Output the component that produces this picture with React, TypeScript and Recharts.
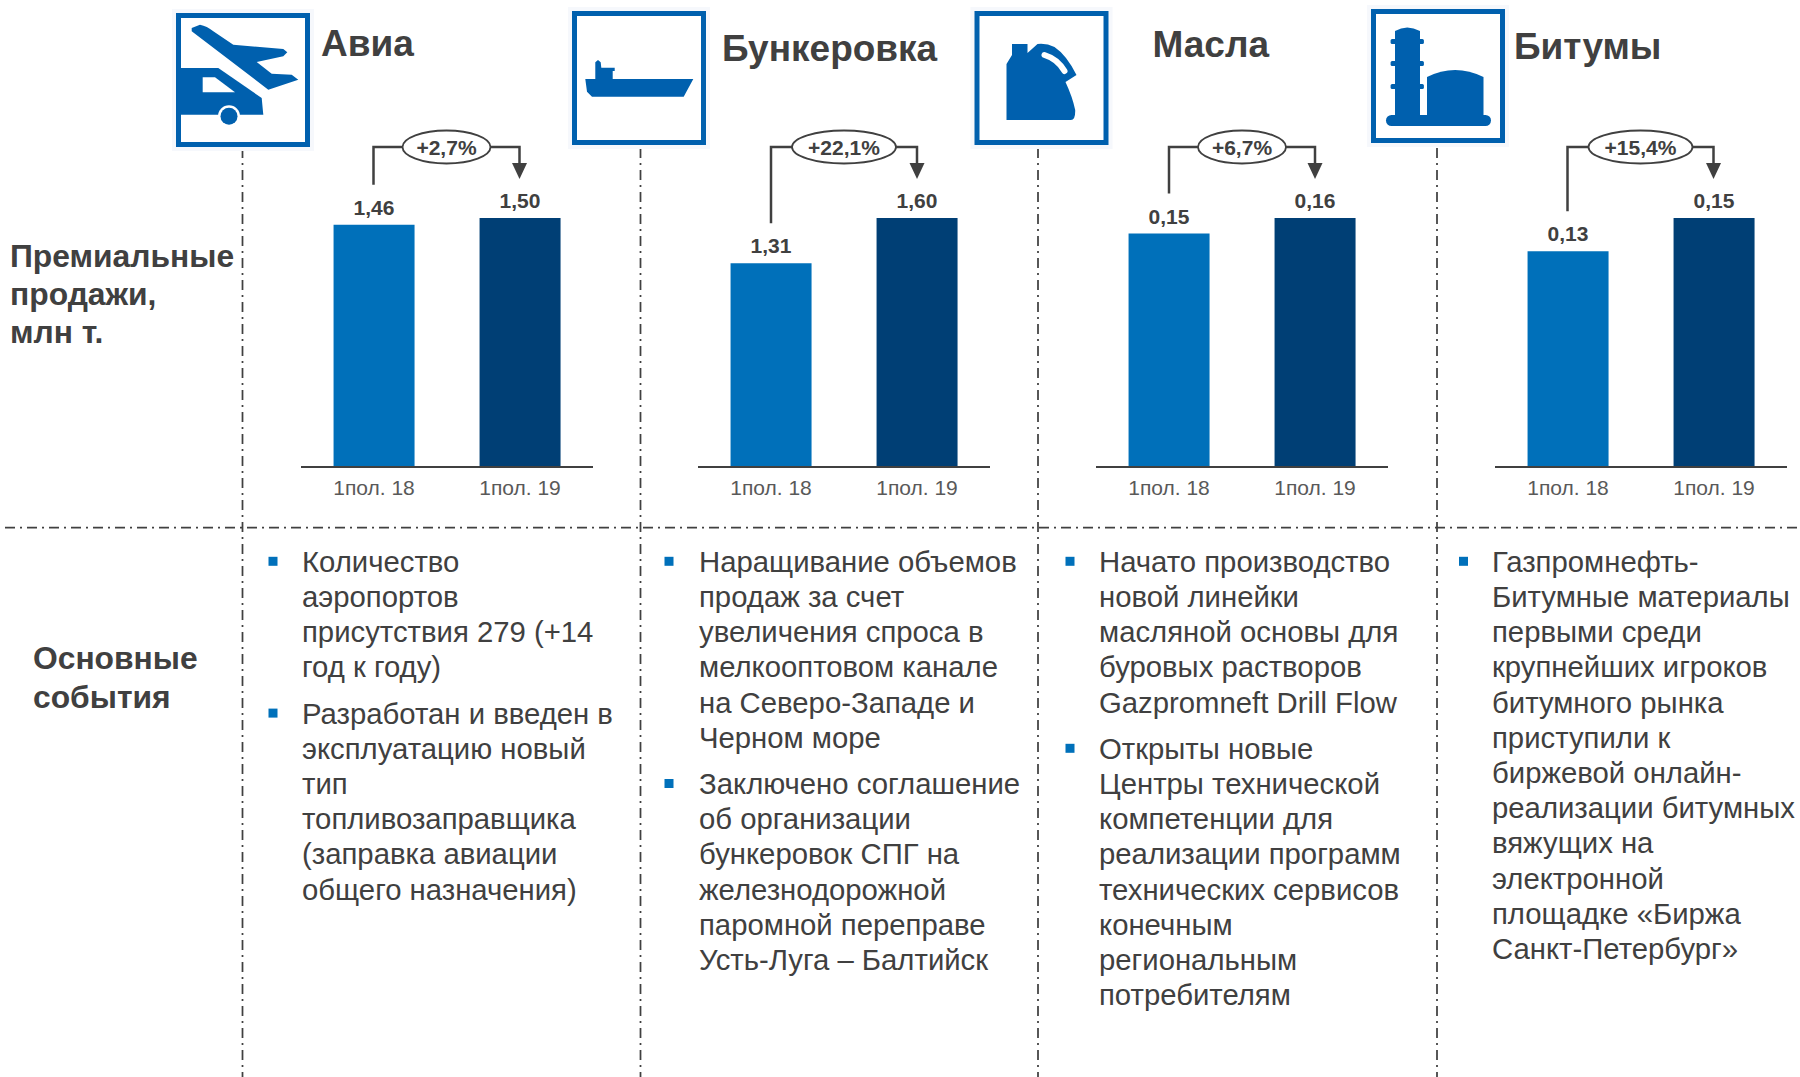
import { BarChart, Bar, XAxis, YAxis, Cell, LabelList } from "recharts";

const categories = ["1пол. 18", "1пол. 19"];
const aviaValues = [1.46, 1.5];
const bunkerValues = [1.31, 1.6];
const oilValues = [0.15, 0.16];
const bitumenValues = [0.13, 0.15];

const growthLabels = ["+2,7%", "+22,1%", "+6,7%", "+15,4%"];
const titles = ["Авиа", "Бункеровка", "Масла", "Битумы"];

const aviaEvents = [
  ["Количество", "аэропортов", "присутствия 279 (+14", "год к году)"],
  ["Разработан и введен в", "эксплуатацию новый", "тип", "топливозаправщика", "(заправка авиации", "общего назначения)"],
];
const bunkerEvents = [
  ["Наращивание объемов", "продаж за счет", "увеличения спроса в", "мелкооптовом канале", "на Северо-Западе и", "Черном море"],
  ["Заключено соглашение", "об организации", "бункеровок СПГ на", "железнодорожной", "паромной переправе", "Усть-Луга – Балтийск"],
];
const oilEvents = [
  ["Начато производство", "новой линейки", "масляной основы для", "буровых растворов", "Gazpromneft Drill Flow"],
  ["Открыты новые", "Центры технической", "компетенции для", "реализации программ", "технических сервисов", "конечным", "региональным", "потребителям"],
];
const bitumenEvents = [
  ["Газпромнефть-", "Битумные материалы", "первыми среди", "крупнейших игроков", "битумного рынка", "приступили к", "биржевой онлайн-", "реализации битумных", "вяжущих на", "электронной", "площадке «Биржа", "Санкт-Петербург»"],
];

const FONT = "'Liberation Sans', Arial, sans-serif";
const TEXT = "#404040";
const BLUE_LIGHT = "#0070BA";
const BLUE_DARK = "#003F75";
const ICON_BLUE = "#0060AE";

const PLOT_TOP = 218;
const PLOT_BOTTOM = 467;
const PLOT_WIDTH = 292;
const CHART_TOP = 180;
const CHART_HEIGHT = 330;
const LINE_H = 35.2;
const FIRST_BASELINE = 571.8;

const panels = [
  { values: aviaValues, left: 300.5, title: { x: 321, y: 56 }, box: { x: 176, y: 13 }, textX: 302, bulletX: 268.5, divider: 242.5, events: aviaEvents },
  { values: bunkerValues, left: 698, title: { x: 722, y: 60.5 }, box: { x: 572, y: 11 }, textX: 699, bulletX: 664.5, divider: 640.5, events: bunkerEvents },
  { values: oilValues, left: 1096, title: { x: 1152.5, y: 57 }, box: { x: 974.5, y: 11 }, textX: 1099, bulletX: 1065.5, divider: 1038, events: oilEvents },
  { values: bitumenValues, left: 1494.5, title: { x: 1514, y: 59 }, box: { x: 1371, y: 9 }, textX: 1492, bulletX: 1459, divider: 1437, events: bitumenEvents },
];

const formatValue = (v: any) => Number(v).toFixed(2).replace(".", ",");

function PanelChart({ values, left }: { values: number[]; left: number }) {
  const data = categories.map((name, i) => ({ name, value: values[i] }));
  return (
    <div style={{ position: "absolute", left, top: CHART_TOP }}>
      <BarChart
        width={PLOT_WIDTH}
        height={CHART_HEIGHT}
        data={data}
        margin={{ top: PLOT_TOP - CHART_TOP, right: 0, left: 0, bottom: 0 }}
        barCategoryGap="22.3%"
      >
        <XAxis
          dataKey="name"
          height={CHART_TOP + CHART_HEIGHT - PLOT_BOTTOM}
          tickLine={false}
          axisLine={{ stroke: TEXT, strokeWidth: 2 }}
          tick={{ fill: "#595959", fontSize: 21, fontFamily: FONT }}
          tickMargin={7}
          interval={0}
        />
        <YAxis hide domain={[0, Math.max(...values)]} />
        <Bar dataKey="value" isAnimationActive={false}>
          {data.map((_, i) => (
            <Cell key={i} fill={i === 0 ? BLUE_LIGHT : BLUE_DARK} />
          ))}
          <LabelList
            dataKey="value"
            position="top"
            offset={10}
            formatter={formatValue}
            style={{ fill: TEXT, fontSize: 21, fontWeight: 700, fontFamily: FONT }}
          />
        </Bar>
      </BarChart>
    </div>
  );
}

// growth bracket between the two bars, stem stops above the first value label
function Connector({ values, left, label }: { values: number[]; left: number; label: string }) {
  const band = PLOT_WIDTH / 2;
  const x1 = left + band / 2;
  const x2 = left + band * 1.5;
  const cx = (x1 + x2) / 2;
  const y = 147;
  const top = PLOT_BOTTOM - ((PLOT_BOTTOM - PLOT_TOP) * values[0]) / Math.max(...values);
  return (
    <g>
      <path d={`M${x1} ${top - 40}V${y}H${x2}V165`} fill="none" stroke={TEXT} strokeWidth={2.5} />
      <path d={`M${x2 - 7.5} 163H${x2 + 7.5}L${x2} 179Z`} fill={TEXT} />
      <ellipse cx={cx} cy={y} rx={label.length > 5 ? 52 : 44} ry={16.5} fill="#fff" stroke={TEXT} strokeWidth={1.8} />
      <text x={cx} y={y + 7.5} textAnchor="middle" fontSize={21} fontWeight={700} fill={TEXT} fontFamily={FONT}>
        {label}
      </text>
    </g>
  );
}

function Icon({ x, y, index }: { x: number; y: number; index: number }) {
  return (
    <g transform={`translate(${x} ${y})`}>
      <rect x={-4} y={-4} width={142} height={142} fill="#f6f8fc" />
      <rect x={2.5} y={2.5} width={129} height={129} fill="#fff" stroke={ICON_BLUE} strokeWidth={5} />
      {index === 0 && (
        <g fill={ICON_BLUE}>
          <path d="M4.7 55H42.3L85.7 85L87.3 101.7H4.7Z" />
          <path d="M26.7 64.3H39L59 79.3H26.7Z" fill="#fff" />
          <path d="M15.7 15L24 11.7Q31 13 37.3 18.3L57.3 31.7L107.3 36L111.3 39.3L107.3 43.3L80.7 49L95.7 60.7L115.7 61.7L122.3 66.7L92.3 76.7L15.7 18.3Z" />
          <circle cx={53} cy={103.3} r={11} fill="#fff" />
          <circle cx={53} cy={103.3} r={8.5} />
        </g>
      )}
      {index === 1 && (
        <path
          fill={ICON_BLUE}
          d="M13.3 68H23.3V51.3L26 49L28.7 51.3L29.3 56.7H42.7V60H40.7V68H121.3L111.7 85.7H20L15 80.7Z"
        />
      )}
      {index === 2 && (
        <g>
          <path
            fill={ICON_BLUE}
            d="M32 109V53L37.5 44V33H53V42L63 33Q72 32 80 36Q92 44 102 64L91 71Q98 86 100.7 99Q101 109 96.4 109Z"
          />
          <path d="M70 44Q83 48 90 60" fill="none" stroke="#fff" strokeWidth={6} strokeLinecap="round" />
        </g>
      )}
      {index === 3 && (
        <g fill={ICON_BLUE}>
          <path d="M24 22Q36 15 49 22V108H24Z" />
          <rect x={19.6} y={30} width={33.3} height={5} rx={1.5} />
          <rect x={19.6} y={52} width={33.3} height={5} rx={1.5} />
          <rect x={19.6} y={75} width={33.3} height={5} rx={1.5} />
          <path d="M56 68Q84 54 112.5 68V108H56Z" />
          <rect x={15} y={106} width={105} height={11} rx={5.5} />
        </g>
      )}
    </g>
  );
}

function Events({ panel }: { panel: (typeof panels)[number] }) {
  let baseline = FIRST_BASELINE;
  return (
    <g>
      {panel.events.map((lines, p) => {
        const start = baseline;
        baseline += lines.length * LINE_H + 11;
        return (
          <g key={p}>
            <rect x={panel.bulletX} y={start - 15} width={9} height={9} fill={BLUE_LIGHT} />
            {lines.map((line, i) => (
              <text key={i} x={panel.textX} y={start + i * LINE_H} fontSize={29.3} fill={TEXT} fontFamily={FONT}>
                {line}
              </text>
            ))}
          </g>
        );
      })}
    </g>
  );
}

export default function App() {
  const dash = "10 5 2 5";
  return (
    <div style={{ position: "absolute", left: 0, top: 0, width: 1800, height: 1077, background: "#fff", overflow: "hidden" }}>
      <svg width={1800} height={1077} style={{ position: "absolute", left: 0, top: 0 }}>
        <line x1={5} x2={1800} y1={527.5} y2={527.5} stroke={TEXT} strokeWidth={1.75} strokeDasharray={dash} />
        {panels.map((p, i) => (
          <g key={i}>
            <line x1={p.divider} x2={p.divider} y1={148} y2={1077} stroke={TEXT} strokeWidth={1.75} strokeDasharray={dash} />
            <Icon x={p.box.x} y={p.box.y} index={i} />
            <text x={p.title.x} y={p.title.y} fontSize={37} fontWeight={700} fill={TEXT} fontFamily={FONT}>
              {titles[i]}
            </text>
            <Connector values={p.values} left={p.left} label={growthLabels[i]} />
            <Events panel={p} />
          </g>
        ))}
        <g fontSize={31.8} fontWeight={700} fill={TEXT} fontFamily={FONT}>
          <text x={10} y={267}>Премиальные</text>
          <text x={10} y={305}>продажи,</text>
          <text x={10} y={343}>млн т.</text>
          <text x={33} y={669}>Основные</text>
          <text x={33} y={708}>события</text>
        </g>
      </svg>
      {panels.map((p, i) => (
        <PanelChart key={i} values={p.values} left={p.left} />
      ))}
    </div>
  );
}
